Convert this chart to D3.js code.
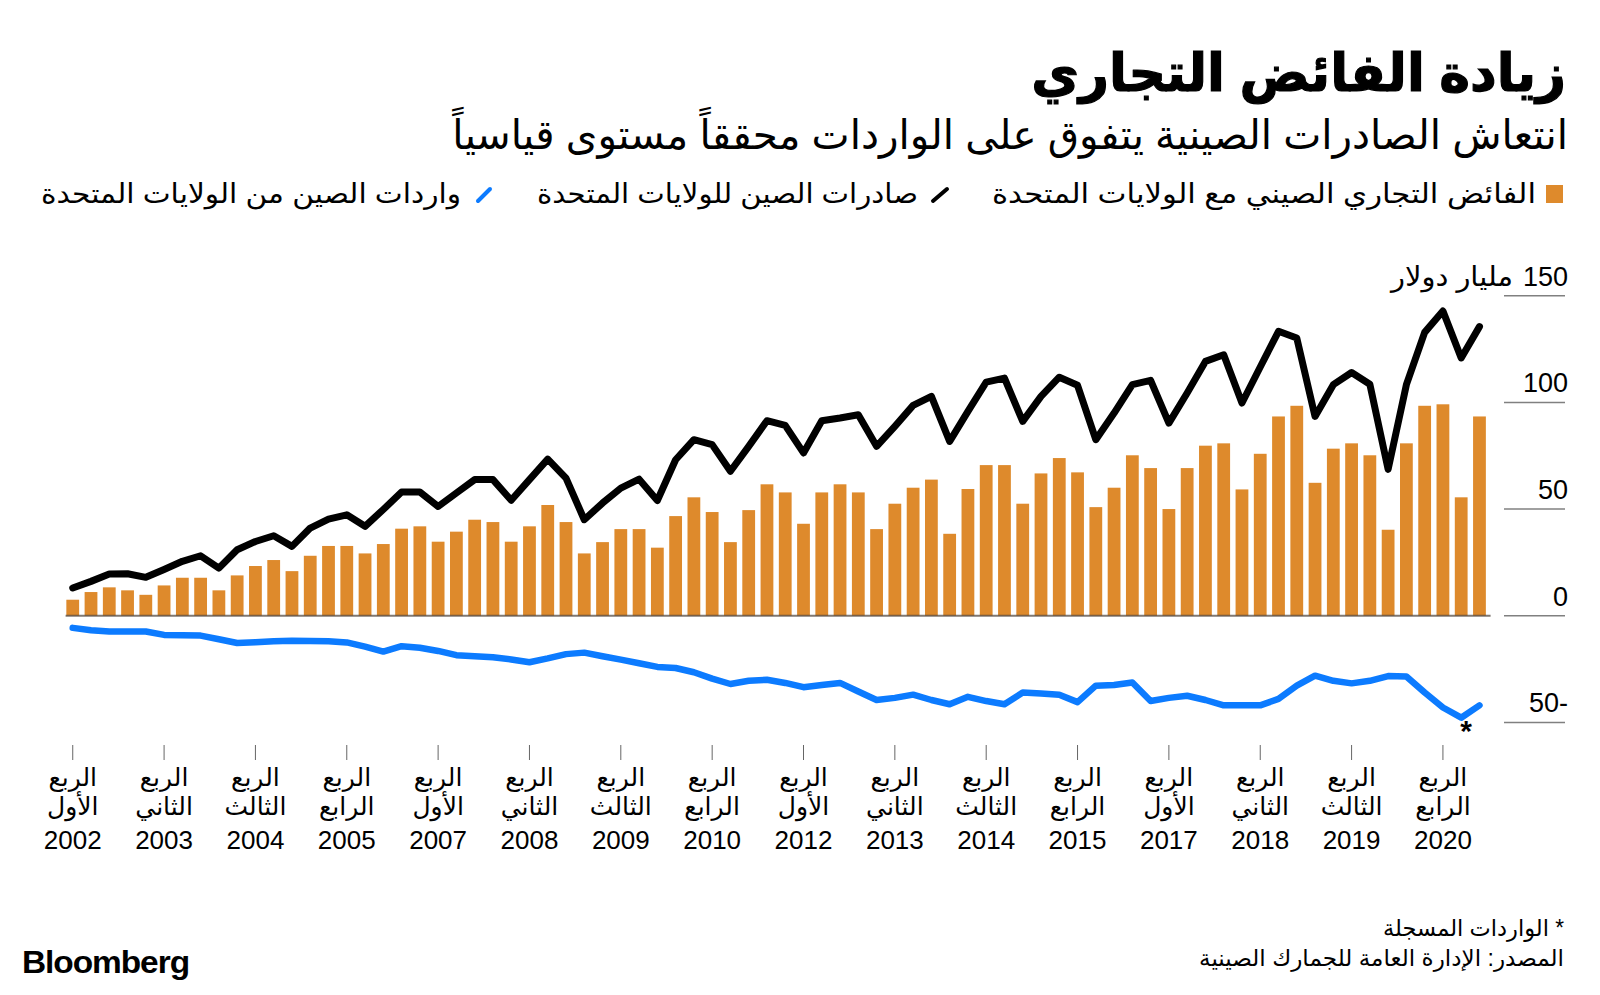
<!DOCTYPE html>
<html><head><meta charset="utf-8">
<script src="https://cdn.jsdelivr.net/npm/d3@7/dist/d3.min.js"></script>
<style>
body{margin:0;background:#fff}
svg{display:block}
text{font-family:"Liberation Sans","DejaVu Sans",sans-serif;fill:#000}
</style>
</head><body>
<svg id="chart" width="1600" height="995"></svg>
<script>
// ---------- DATA ----------
const quarters = [
 "2002Q1","2002Q2","2002Q3","2002Q4","2003Q1","2003Q2","2003Q3","2003Q4",
 "2004Q1","2004Q2","2004Q3","2004Q4","2005Q1","2005Q2","2005Q3","2005Q4",
 "2006Q1","2006Q2","2006Q3","2006Q4","2007Q1","2007Q2","2007Q3","2007Q4",
 "2008Q1","2008Q2","2008Q3","2008Q4","2009Q1","2009Q2","2009Q3","2009Q4",
 "2010Q1","2010Q2","2010Q3","2010Q4","2011Q1","2011Q2","2011Q3","2011Q4",
 "2012Q1","2012Q2","2012Q3","2012Q4","2013Q1","2013Q2","2013Q3","2013Q4",
 "2014Q1","2014Q2","2014Q3","2014Q4","2015Q1","2015Q2","2015Q3","2015Q4",
 "2016Q1","2016Q2","2016Q3","2016Q4","2017Q1","2017Q2","2017Q3","2017Q4",
 "2018Q1","2018Q2","2018Q3","2018Q4","2019Q1","2019Q2","2019Q3","2019Q4",
 "2020Q1","2020Q2","2020Q3","2020Q4","2021Q1","2021Q2"];

// China's trade surplus with the US (bn $)
const surplus = [
 7.5,11.1,13.3,11.9, 9.8,14.2,17.8,17.8, 11.9,18.9,23.3,26.1, 20.9,28.1,32.7,32.7,
 29.2,33.6,40.8,41.9, 34.7,39.4,45.0,43.9, 34.7,41.9,51.9,43.9, 29.2,34.5,40.6,40.6,
 31.9,46.7,55.5,48.6, 34.5,49.5,61.6,57.8, 43.1,57.8,61.6,57.8, 40.6,52.5,60.0,63.8,
 38.4,59.4,70.6,70.6, 52.5,66.7,73.9,67.2, 50.9,60.0,75.2,69.2, 50.0,69.2,79.7,80.8,
 59.2,75.9,93.4,98.4, 62.3,78.3,80.8,75.2, 40.3,80.8,98.4,99.1, 55.5,93.4];

// China's exports to the US (bn $)
const exportsUS = [
 13.0,16.1,19.5,19.7, 18.0,21.7,25.5,28.1, 22.3,30.9,34.8,37.5, 32.5,41.1,45.3,47.3,
 41.9,49.8,58.0,58.0, 51.2,57.5,63.8,63.8, 54.1,63.8,73.4,64.5, 45.0,52.8,59.8,64.0,
 54.0,73.1,82.5,80.2, 67.7,79.4,91.4,89.2, 76.3,91.4,92.7,94.2, 79.4,88.8,98.6,102.8,
 81.7,95.8,109.5,111.4, 91.1,102.8,111.8,108.0, 82.5,95.0,108.3,110.3, 90.3,104.4,119.2,122.3,
 99.7,116.6,133.3,130.2, 93.4,108.3,114.0,108.5, 68.6,108.3,132.8,142.8, 120.8,135.5];

// China's imports from the US (bn $, shown negative)
const importsUS = [
 -5.7,-6.8,-7.4,-7.4, -7.4,-9.0,-9.2,-9.3, -11.0,-12.8,-12.4,-12.0, -11.7,-11.8,-12.0,-12.5,
 -14.5,-16.8,-14.3,-15.0, -16.5,-18.5,-19.0,-19.5, -20.5,-21.8,-20.0,-18.0, -17.3,-19.0,-20.6,-22.3,
 -24.0,-24.5,-26.5,-29.5, -32.0,-30.5,-30.0,-31.5, -33.5,-32.5,-31.5,-35.5, -39.5,-38.5,-37.0,-39.5,
 -41.5,-38.0,-40.0,-41.5, -36.0,-36.5,-37.0,-40.5, -32.8,-32.5,-31.3,-40.0, -38.5,-37.5,-39.5,-42.0,
 -42.0,-42.0,-39.0,-32.8, -28.1,-30.5,-31.7,-30.5, -28.3,-28.5,-36.0,-43.0, -47.8,-42.0];

const yTicks = [150, 100, 50, 0, -50];
const tickQuarters = ["2002Q1","2003Q2","2004Q3","2005Q4","2007Q1","2008Q2","2009Q3","2010Q4",
                      "2012Q1","2013Q2","2014Q3","2015Q4","2017Q1","2018Q2","2019Q3","2020Q4"];
const tickOrdinals = ["الأول","الثاني","الثالث","الرابع","الأول","الثاني","الثالث","الرابع",
                      "الأول","الثاني","الثالث","الرابع","الأول","الثاني","الثالث","الرابع"];
const tickYears = ["2002","2003","2004","2005","2007","2008","2009","2010",
                   "2012","2013","2014","2015","2017","2018","2019","2020"];
const starQuarter = "2021Q1";

const titleText = "زيادة الفائض التجاري";
const subtitleText = "انتعاش الصادرات الصينية يتفوق على الواردات محققاً مستوى قياسياً";
const legendLabels = ["الفائض التجاري الصيني مع الولايات المتحدة","صادرات الصين للولايات المتحدة","واردات الصين من الولايات المتحدة"];
const unitLabel = "مليار دولار";
const quarterWord = "الربع";
const noteText = "* الواردات المسجلة";
const sourceText = "المصدر: الإدارة العامة للجمارك الصينية";

// ---------- DRAW ----------
const COL_BAR = "#DE8A2C", COL_EXP = "#000000", COL_IMP = "#0C7BFF";
const svg = d3.select("#chart");

const x = d3.scaleBand().domain(quarters).range([63.6, 1488.6]).paddingInner(0.3).paddingOuter(0.15);
const y = d3.scaleLinear().domain([-50, 150]).range([722.4, 295.7]);
const cx = q => x(q) + x.bandwidth() / 2;

// right-aligned Arabic text.  mode "shrink": reduce font size to fit w;
// mode "fit": set the text length to w exactly.
function rtlText(g, str, xr, yb, size, weight, w, mode) {
  const t = g.append("text").attr("x", xr).attr("y", yb)
    .attr("direction", "rtl").attr("text-anchor", "start")
    .style("font-size", size + "px").style("font-weight", weight || "normal")
    .text(str);
  if (w) {
    const nat = t.node().getComputedTextLength();
    if (mode === "fit") t.attr("textLength", w).attr("lengthAdjust", "spacingAndGlyphs");
    else if (nat > w) t.style("font-size", (size * w / nat).toFixed(2) + "px");
  }
  return t;
}

// Title, subtitle
rtlText(svg, titleText, 1566, 91, 66, "bold", 535, "shrink")
  .attr("stroke", "#000").attr("stroke-width", 1.2);
rtlText(svg, subtitleText, 1568, 149, 44, "normal", 1116, "shrink");

// Legend
const lg = svg.append("g");
lg.append("rect").attr("x", 1546).attr("y", 185).attr("width", 17).attr("height", 18).attr("fill", COL_BAR);
rtlText(lg, legendLabels[0], 1536, 203, 27, "normal", 544, "fit");
lg.append("line").attr("x1", 933).attr("y1", 201).attr("x2", 947).attr("y2", 189)
  .attr("stroke", COL_EXP).attr("stroke-width", 4).attr("stroke-linecap", "round");
rtlText(lg, legendLabels[1], 918, 203, 27, "normal", 381, "fit");
lg.append("line").attr("x1", 478).attr("y1", 201).attr("x2", 490).attr("y2", 189)
  .attr("stroke", COL_IMP).attr("stroke-width", 4).attr("stroke-linecap", "round");
rtlText(lg, legendLabels[2], 461, 203, 27, "normal", 420, "fit");

// Right axis: short gridlines + labels
const ya = svg.append("g");
ya.selectAll("line").data(yTicks).join("line")
  .attr("x1", 1504).attr("x2", 1565)
  .attr("y1", d => y(d)).attr("y2", d => y(d))
  .attr("stroke", "#808080").attr("stroke-width", 1.5);
ya.selectAll("text").data(yTicks).join("text")
  .attr("x", 1568).attr("y", d => y(d) - 10)
  .attr("text-anchor", "end").style("font-size", "27px")
  .text(d => d < 0 ? Math.abs(d) + "-" : d);
rtlText(svg, unitLabel, 1513, y(150) - 10, 27, "normal", 122, "fit");

// Bars
svg.append("g").selectAll("rect").data(quarters).join("rect")
  .attr("x", q => x(q)).attr("width", x.bandwidth())
  .attr("y", (q, i) => y(Math.max(0, surplus[i])))
  .attr("height", (q, i) => Math.abs(y(surplus[i]) - y(0)))
  .attr("fill", COL_BAR);

// Zero line
svg.append("line").attr("x1", x.range()[0] + 2).attr("x2", x.range()[1] + 2)
  .attr("y1", y(0)).attr("y2", y(0))
  .attr("stroke", "#4a4038").attr("stroke-opacity", 0.7).attr("stroke-width", 2);

// Lines
const line = d3.line().x((d, i) => cx(quarters[i])).y(d => y(d));
svg.append("path").datum(exportsUS).attr("d", line)
  .attr("fill", "none").attr("stroke", COL_EXP).attr("stroke-width", 7)
  .attr("stroke-linejoin", "round").attr("stroke-linecap", "round");
svg.append("path").datum(importsUS).attr("d", line)
  .attr("fill", "none").attr("stroke", COL_IMP).attr("stroke-width", 6.5)
  .attr("stroke-linejoin", "round").attr("stroke-linecap", "round");

// Star marker
svg.append("text").attr("x", cx(starQuarter) + 5).attr("y", 741)
  .attr("text-anchor", "middle").style("font-size", "30px").style("font-weight", "bold").text("*");

// X axis ticks + labels
const xa = svg.append("g");
xa.selectAll("line").data(tickQuarters).join("line")
  .attr("x1", q => cx(q)).attr("x2", q => cx(q)).attr("y1", 745).attr("y2", 760)
  .attr("stroke", "#666").attr("stroke-width", 1);
const tl = xa.selectAll("g.tl").data(tickQuarters).join("g").attr("class", "tl");
tl.append("text").attr("x", q => cx(q)).attr("y", 786).attr("text-anchor", "middle")
  .style("font-size", "25px").text(quarterWord);
tl.append("text").attr("x", q => cx(q)).attr("y", 815).attr("text-anchor", "middle")
  .style("font-size", "25px").text((q, i) => tickOrdinals[i]);
tl.append("text").attr("x", q => cx(q)).attr("y", 849).attr("text-anchor", "middle")
  .style("font-size", "26px").text((q, i) => tickYears[i]);

// Footer
rtlText(svg, noteText, 1564, 936, 23, "normal", 181, "fit");
rtlText(svg, sourceText, 1564, 966, 23, "normal", 365, "fit");
const bl = svg.append("text").attr("x", 22).attr("y", 973)
  .style("font-size", "32px").style("font-weight", "bold").style("letter-spacing", "-1px")
  .attr("textLength", 167).attr("lengthAdjust", "spacingAndGlyphs")
  .text("Bloomberg");
</script>
</body></html>
